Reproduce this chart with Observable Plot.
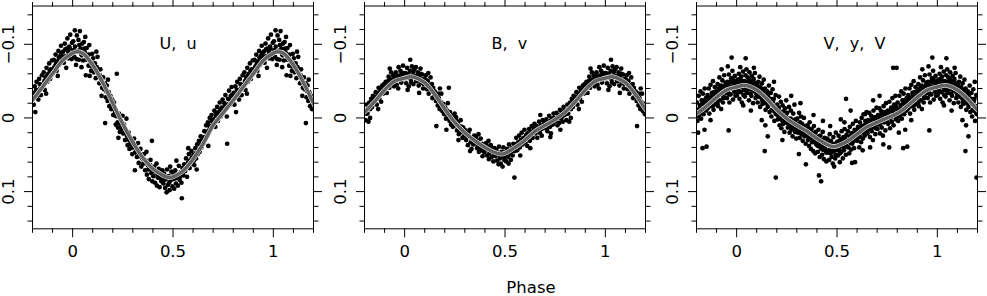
<!DOCTYPE html>
<html><head><meta charset="utf-8">
<script src="https://cdn.jsdelivr.net/npm/d3@7"></script>
<script src="https://cdn.jsdelivr.net/npm/@observablehq/plot@0.6"></script>
<style>
body{margin:0;background:#fff;}
#chart{position:relative;width:987px;height:296px;overflow:hidden;background:#fff;}
#chart svg{position:absolute;top:0;}
svg text{white-space:pre;}
</style></head><body><div id="chart"></div>
<script>
// ---- panel titles ----
const titles = ["U,  u", "B,  v", "V,  y,  V"];
// ---- axis ticks ----
const xMajor = [0, 0.5, 1];
const xMajorLabels = ["0", "0.5", "1"];
const xMinor = [-0.2, -0.1, 0.1, 0.2, 0.3, 0.4, 0.6, 0.7, 0.8, 0.9, 1.1, 1.2];
const yMajor = [-0.1, 0, 0.1];
const yMajorLabels = ["\u22120.1", "0", "0.1"];
const yMinor = [-0.14, -0.12, -0.08, -0.06, -0.04, -0.02, 0.02, 0.04, 0.06, 0.08, 0.12, 0.14];
const xLabel = "Phase";

// ---- fitted curves (phase, mag) over one cycle ----
const uCurve = [[0,-0.088],[0.02,-0.090],[0.05,-0.088],[0.10,-0.072],[0.15,-0.048],[0.20,-0.020],[0.25,0.008],[0.30,0.033],[0.35,0.054],[0.40,0.069],[0.45,0.078],[0.48,0.081],[0.50,0.080],[0.55,0.072],[0.60,0.056],[0.65,0.035],[0.70,0.010],[0.75,-0.007],[0.80,-0.024],[0.85,-0.042],[0.90,-0.060],[0.95,-0.078]];
const bCurve = [[0,-0.054],[0.03,-0.056],[0.05,-0.055],[0.10,-0.048],[0.15,-0.032],[0.20,-0.012],[0.25,0.006],[0.30,0.020],[0.35,0.031],[0.40,0.040],[0.45,0.047],[0.48,0.049],[0.50,0.048],[0.55,0.040],[0.60,0.030],[0.65,0.018],[0.70,0.010],[0.75,0.002],[0.80,-0.008],[0.85,-0.022],[0.90,-0.038],[0.95,-0.050]];
const vCurve = [[0,-0.042],[0.03,-0.044],[0.05,-0.044],[0.10,-0.038],[0.15,-0.026],[0.20,-0.011],[0.25,0.001],[0.30,0.010],[0.35,0.018],[0.40,0.028],[0.45,0.036],[0.48,0.039],[0.50,0.038],[0.55,0.032],[0.60,0.022],[0.65,0.012],[0.70,0.006],[0.75,0.000],[0.80,-0.006],[0.85,-0.016],[0.90,-0.028],[0.95,-0.038]];

// ---- observations (phase, mag) over one cycle ----
const uPoints = [
[0.003,-0.104],[0.008,-0.083],[0.012,-0.097],[0.017,-0.072],[0.021,-0.112],[0.026,-0.091],[0.031,-0.079],[0.036,-0.118],[0.040,-0.094],[0.044,-0.069],[0.048,-0.101],[0.011,-0.119],[0.029,-0.106],[0.046,-0.085],
[0.052,-0.078],[0.056,-0.103],[0.061,-0.089],[0.066,-0.058],[0.070,-0.095],[0.074,-0.083],[0.079,-0.071],[0.083,-0.099],[0.088,-0.076],[0.092,-0.064],[0.097,-0.087],[0.063,-0.110],[0.085,-0.057],
[0.102,-0.081],[0.106,-0.062],[0.111,-0.074],[0.115,-0.054],[0.120,-0.069],[0.124,-0.083],[0.129,-0.057],[0.133,-0.047],[0.138,-0.066],[0.142,-0.052],[0.147,-0.041],[0.118,-0.090],[0.144,-0.030],
[0.152,-0.055],[0.156,-0.039],[0.161,-0.047],[0.162,0.007],[0.165,-0.028],[0.170,-0.044],[0.174,-0.023],[0.179,-0.035],[0.183,-0.016],[0.188,-0.030],[0.192,-0.012],[0.197,-0.025],[0.176,-0.052],
[0.202,-0.004],[0.206,-0.021],[0.211,-0.008],[0.215,0.009],[0.220,-0.060],[0.222,-0.002],[0.226,0.013],[0.231,-0.006],[0.235,0.019],[0.240,0.004],[0.244,0.015],[0.249,-0.003],[0.228,0.027],
[0.252,0.021],[0.256,0.009],[0.261,0.030],[0.265,0.016],[0.270,0.024],[0.274,0.037],[0.279,0.020],[0.283,0.042],[0.288,0.028],[0.292,0.035],[0.297,0.049],[0.268,0.001],
[0.302,0.040],[0.306,0.028],[0.310,0.071],[0.311,0.047],[0.315,0.036],[0.320,0.053],[0.324,0.044],[0.329,0.061],[0.333,0.050],[0.338,0.042],[0.342,0.066],[0.347,0.055],[0.326,0.034],
[0.352,0.062],[0.356,0.049],[0.361,0.071],[0.365,0.058],[0.370,0.077],[0.374,0.064],[0.379,0.083],[0.383,0.069],[0.388,0.057],[0.392,0.075],[0.395,0.031],[0.397,0.086],[0.368,0.046],
[0.402,0.079],[0.406,0.066],[0.411,0.088],[0.415,0.073],[0.420,0.092],[0.424,0.081],[0.429,0.069],[0.433,0.094],[0.438,0.077],[0.442,0.086],[0.447,0.071],[0.418,0.062],
[0.452,0.089],[0.456,0.076],[0.461,0.095],[0.465,0.083],[0.470,0.070],[0.474,0.091],[0.479,0.079],[0.483,0.098],[0.488,0.085],[0.492,0.073],[0.497,0.093],[0.468,0.101],[0.486,0.066],
[0.502,0.083],[0.506,0.096],[0.511,0.071],[0.515,0.089],[0.520,0.077],[0.524,0.092],[0.529,0.065],[0.533,0.084],[0.538,0.074],[0.542,0.088],[0.544,0.109],[0.547,0.068],[0.517,0.058],
[0.552,0.078],[0.556,0.063],[0.561,0.072],[0.565,0.055],[0.570,0.080],[0.574,0.061],[0.579,0.049],[0.583,0.068],[0.588,0.057],[0.592,0.045],[0.597,0.062],[0.576,0.041],
[0.602,0.050],[0.606,0.064],[0.611,0.041],[0.615,0.055],[0.620,0.036],[0.624,0.049],[0.629,0.031],[0.633,0.046],[0.638,0.025],[0.642,0.040],[0.647,0.029],[0.618,0.070],
[0.652,0.034],[0.656,0.018],[0.661,0.028],[0.665,0.010],[0.670,0.024],[0.674,0.006],[0.679,0.017],[0.683,0.000],[0.688,0.014],[0.692,-0.004],[0.697,0.009],[0.676,0.038],
[0.702,0.002],[0.706,-0.010],[0.711,0.012],[0.715,-0.003],[0.720,-0.015],[0.724,0.004],[0.729,-0.008],[0.733,-0.021],[0.738,-0.002],[0.742,-0.014],[0.747,-0.025],[0.770,0.035],
[0.752,-0.009],[0.756,-0.020],[0.761,-0.031],[0.765,-0.013],[0.774,-0.026],[0.779,-0.037],[0.783,-0.018],[0.788,-0.030],[0.792,-0.042],[0.797,-0.022],[0.768,-0.002],
[0.802,-0.034],[0.806,-0.018],[0.811,-0.043],[0.814,-0.008],[0.815,-0.029],[0.820,-0.049],[0.824,-0.036],[0.829,-0.025],[0.833,-0.053],[0.838,-0.040],[0.842,-0.031],[0.847,-0.058],
[0.852,-0.045],[0.856,-0.062],[0.861,-0.038],[0.865,-0.055],[0.870,-0.068],[0.874,-0.049],[0.879,-0.060],[0.883,-0.074],[0.888,-0.053],[0.892,-0.066],[0.897,-0.078],[0.868,-0.033],
[0.902,-0.061],[0.906,-0.079],[0.911,-0.070],[0.915,-0.086],[0.920,-0.064],[0.924,-0.077],[0.929,-0.091],[0.933,-0.072],[0.938,-0.084],[0.942,-0.098],[0.947,-0.079],[0.926,-0.057],
[0.952,-0.090],[0.956,-0.075],[0.961,-0.101],[0.965,-0.084],[0.970,-0.094],[0.974,-0.108],[0.979,-0.081],[0.983,-0.097],[0.988,-0.113],[0.992,-0.087],[0.997,-0.102],[0.968,-0.068]
];
const uPoints2 = [
[0.006,-0.092],[0.019,-0.080],[0.033,-0.099],[0.043,-0.087],[0.058,-0.094],[0.068,-0.079],[0.081,-0.086],[0.094,-0.070],[0.104,-0.073],[0.113,-0.064],[0.126,-0.061],[0.136,-0.058],[0.149,-0.048],[0.159,-0.042],[0.168,-0.036],[0.181,-0.029],[0.194,-0.018],[0.204,-0.012],[0.213,-0.003],[0.224,0.006],[0.237,0.008],[0.246,0.011],[0.258,0.014],[0.272,0.029],[0.285,0.031],[0.295,0.040],[0.308,0.037],[0.318,0.045],[0.331,0.052],[0.344,0.050],[0.354,0.056],[0.363,0.061],[0.376,0.070],[0.386,0.064],[0.399,0.072],[0.409,0.072],[0.422,0.076],[0.436,0.082],[0.445,0.080],[0.458,0.084],[0.472,0.080],[0.481,0.088],[0.494,0.082],[0.504,0.076],[0.513,0.082],[0.527,0.078],[0.536,0.080],[0.549,0.074],[0.558,0.069],[0.568,0.066],[0.581,0.059],[0.594,0.054],[0.604,0.058],[0.613,0.048],[0.626,0.043],[0.636,0.036],[0.645,0.035],[0.658,0.026],[0.668,0.019],[0.681,0.011],[0.694,0.004],[0.704,0.006],[0.713,-0.007],[0.727,-0.004],[0.736,-0.011],[0.745,-0.008],[0.758,-0.016],[0.772,-0.018],[0.786,-0.024],[0.795,-0.031],[0.808,-0.027],[0.818,-0.038],[0.827,-0.031],[0.836,-0.046],[0.849,-0.042],[0.859,-0.050],[0.872,-0.057],[0.886,-0.064],[0.895,-0.059],[0.908,-0.068],[0.918,-0.074],[0.931,-0.082],[0.944,-0.088],[0.954,-0.083],[0.963,-0.093],[0.977,-0.090],[0.986,-0.094],[0.995,-0.080]
];
const bPoints = [
[0.003,-0.061],[0.008,-0.047],[0.012,-0.068],[0.017,-0.055],[0.021,-0.043],[0.026,-0.064],[0.028,-0.079],[0.031,-0.052],[0.036,-0.070],[0.040,-0.058],[0.044,-0.046],[0.048,-0.066],[0.015,-0.038],
[0.052,-0.057],[0.056,-0.069],[0.061,-0.050],[0.066,-0.062],[0.070,-0.044],[0.074,-0.055],[0.079,-0.067],[0.083,-0.048],[0.088,-0.059],[0.092,-0.040],[0.097,-0.053],[0.072,-0.034],
[0.102,-0.047],[0.106,-0.058],[0.111,-0.039],[0.115,-0.050],[0.120,-0.033],[0.124,-0.044],[0.129,-0.055],[0.133,-0.036],[0.138,-0.027],[0.142,-0.041],[0.147,-0.030],[0.118,-0.061],
[0.152,-0.035],[0.156,-0.023],[0.158,0.011],[0.161,-0.031],[0.165,-0.017],[0.170,-0.027],[0.174,-0.012],[0.179,-0.022],[0.183,-0.033],[0.188,-0.009],[0.192,-0.019],[0.197,-0.005],[0.176,-0.040],
[0.202,-0.014],[0.206,0.001],[0.208,0.016],[0.211,-0.010],[0.215,-0.020],[0.220,-0.041],[0.222,0.000],[0.226,-0.008],[0.231,0.009],[0.235,-0.003],[0.240,0.012],[0.244,0.002],[0.249,-0.006],
[0.252,0.010],[0.256,-0.001],[0.261,0.017],[0.265,0.006],[0.270,0.022],[0.274,0.011],[0.279,0.003],[0.283,0.019],[0.288,0.027],[0.292,0.013],[0.297,0.024],[0.268,0.030],
[0.302,0.017],[0.306,0.030],[0.311,0.022],[0.315,0.037],[0.320,0.025],[0.324,0.016],[0.329,0.033],[0.333,0.042],[0.338,0.028],[0.342,0.036],[0.347,0.024],[0.326,0.045],
[0.352,0.034],[0.356,0.025],[0.361,0.041],[0.365,0.031],[0.370,0.046],[0.374,0.036],[0.379,0.028],[0.383,0.044],[0.388,0.052],[0.392,0.038],[0.397,0.047],[0.368,0.022],
[0.402,0.043],[0.406,0.034],[0.411,0.051],[0.415,0.040],[0.420,0.056],[0.424,0.045],[0.429,0.037],[0.433,0.053],[0.438,0.046],[0.442,0.059],[0.447,0.041],[0.418,0.031],
[0.452,0.052],[0.456,0.043],[0.461,0.058],[0.465,0.048],[0.470,0.039],[0.474,0.055],[0.479,0.062],[0.483,0.046],[0.488,0.066],[0.490,0.053],[0.492,0.040],[0.497,0.057],[0.468,0.063],
[0.502,0.047],[0.506,0.059],[0.511,0.042],[0.515,0.053],[0.520,0.036],[0.524,0.049],[0.529,0.057],[0.533,0.041],[0.538,0.051],[0.542,0.035],[0.547,0.081],[0.549,0.045],[0.518,0.062],
[0.552,0.038],[0.556,0.027],[0.561,0.044],[0.565,0.033],[0.570,0.024],[0.574,0.040],[0.579,0.030],[0.583,0.020],[0.588,0.036],[0.592,0.027],[0.597,0.016],[0.576,0.051],
[0.602,0.033],[0.606,0.023],[0.611,0.038],[0.615,0.026],[0.620,0.015],[0.624,0.031],[0.629,0.020],[0.633,0.011],[0.638,0.027],[0.642,0.017],[0.647,0.008],[0.626,0.041],
[0.652,0.021],[0.656,0.011],[0.661,0.027],[0.665,0.016],[0.670,0.005],[0.674,0.020],[0.679,0.010],[0.683,0.024],[0.688,0.003],[0.692,0.014],[0.697,0.006],[0.676,-0.004],
[0.702,0.013],[0.706,0.002],[0.711,0.018],[0.715,0.008],[0.720,-0.003],[0.724,0.012],[0.729,0.021],[0.733,0.001],[0.738,0.009],[0.742,-0.006],[0.747,0.005],[0.726,0.026],
[0.752,0.004],[0.756,-0.007],[0.761,0.010],[0.765,-0.002],[0.770,0.007],[0.774,-0.011],[0.779,0.001],[0.783,-0.008],[0.788,0.005],[0.792,-0.015],[0.797,-0.004],[0.776,0.016],
[0.802,-0.010],[0.806,0.003],[0.811,-0.018],[0.815,-0.006],[0.820,0.005],[0.824,-0.021],[0.829,-0.012],[0.833,-0.026],[0.838,-0.015],[0.842,-0.030],[0.847,-0.020],[0.828,0.000],
[0.852,-0.024],[0.856,-0.035],[0.861,-0.018],[0.865,-0.030],[0.870,-0.041],[0.874,-0.026],[0.879,-0.037],[0.883,-0.022],[0.888,-0.044],[0.892,-0.033],[0.897,-0.046],[0.868,-0.012],
[0.902,-0.039],[0.906,-0.049],[0.911,-0.034],[0.915,-0.045],[0.920,-0.056],[0.924,-0.041],[0.929,-0.052],[0.933,-0.062],[0.938,-0.047],[0.942,-0.058],[0.947,-0.043],[0.926,-0.067],
[0.952,-0.051],[0.956,-0.062],[0.961,-0.045],[0.965,-0.057],[0.970,-0.069],[0.974,-0.053],[0.979,-0.064],[0.983,-0.048],[0.988,-0.060],[0.992,-0.071],[0.997,-0.055],[0.968,-0.040]
];
const bPoints2 = [
[0.006,-0.054],[0.019,-0.060],[0.033,-0.048],[0.043,-0.063],[0.058,-0.051],[0.068,-0.057],[0.081,-0.060],[0.094,-0.046],[0.104,-0.052],[0.113,-0.044],[0.126,-0.039],[0.136,-0.046],[0.149,-0.036],[0.159,-0.028],[0.168,-0.033],[0.181,-0.017],[0.194,-0.013],[0.204,-0.007],[0.213,-0.004],[0.224,0.004],[0.237,0.004],[0.246,0.008],[0.258,0.004],[0.272,0.015],[0.285,0.012],[0.295,0.019],[0.308,0.024],[0.318,0.020],[0.331,0.027],[0.344,0.031],[0.354,0.029],[0.363,0.036],[0.376,0.040],[0.386,0.035],[0.399,0.041],[0.409,0.038],[0.422,0.048],[0.436,0.042],[0.445,0.050],[0.458,0.046],[0.472,0.050],[0.481,0.053],[0.494,0.047],[0.504,0.052],[0.513,0.047],[0.527,0.044],[0.536,0.045],[0.549,0.039],[0.558,0.036],[0.568,0.038],[0.581,0.033],[0.594,0.030],[0.604,0.028],[0.613,0.021],[0.626,0.024],[0.636,0.020],[0.645,0.014],[0.658,0.016],[0.668,0.012],[0.681,0.015],[0.694,0.009],[0.704,0.007],[0.713,0.012],[0.727,0.004],[0.736,0.005],[0.745,0.000],[0.758,0.001],[0.772,-0.004],[0.786,-0.002],[0.795,-0.010],[0.808,-0.006],[0.818,-0.013],[0.827,-0.017],[0.836,-0.020],[0.849,-0.027],[0.859,-0.028],[0.872,-0.033],[0.886,-0.039],[0.895,-0.040],[0.908,-0.043],[0.918,-0.050],[0.931,-0.047],[0.944,-0.053],[0.954,-0.056],[0.963,-0.052],[0.977,-0.058],[0.986,-0.052],[0.995,-0.061]
];
const vPoints = [
[0.002,-0.031],[0.005,-0.052],[0.008,-0.040],[0.011,-0.060],[0.014,-0.026],[0.017,-0.047],[0.020,-0.035],[0.023,-0.056],[0.026,-0.021],[0.029,-0.044],[0.032,-0.063],[0.035,-0.038],[0.038,-0.050],[0.041,-0.029],[0.044,-0.058],[0.045,-0.081],[0.047,-0.041],[0.049,-0.066],[0.018,-0.069],[0.033,-0.017],
[0.052,-0.034],[0.055,-0.055],[0.058,-0.045],[0.061,-0.024],[0.064,-0.062],[0.067,-0.039],[0.070,-0.050],[0.073,-0.030],[0.076,-0.057],[0.079,-0.043],[0.082,-0.020],[0.085,-0.053],[0.088,-0.036],[0.091,-0.061],[0.094,-0.027],[0.097,-0.046],[0.071,-0.010],[0.086,-0.068],
[0.102,-0.038],[0.105,-0.021],[0.108,-0.049],[0.111,-0.032],[0.114,-0.056],[0.117,-0.015],[0.120,-0.041],[0.123,-0.027],[0.126,-0.047],[0.129,-0.019],[0.132,-0.036],[0.135,-0.052],[0.138,-0.024],[0.140,0.045],[0.141,-0.040],[0.144,-0.011],[0.147,-0.031],[0.143,0.010],[0.125,0.003],
[0.152,-0.036],[0.155,-0.015],[0.158,-0.027],[0.161,-0.044],[0.164,-0.008],[0.167,-0.022],[0.170,-0.034],[0.173,-0.002],[0.176,-0.018],[0.179,-0.039],[0.182,-0.010],[0.185,-0.026],[0.188,0.004],[0.191,-0.016],[0.194,-0.031],[0.195,0.081],[0.197,-0.005],[0.155,0.025],[0.186,-0.049],
[0.202,-0.018],[0.205,0.002],[0.208,-0.011],[0.211,-0.029],[0.214,0.010],[0.217,-0.006],[0.220,-0.022],[0.223,0.014],[0.226,-0.002],[0.229,-0.017],[0.232,0.008],[0.235,-0.009],[0.238,0.019],[0.241,-0.013],[0.244,0.004],[0.247,-0.024],[0.228,0.030],
[0.252,-0.007],[0.255,0.013],[0.258,0.001],[0.261,-0.015],[0.264,0.020],[0.267,0.006],[0.270,-0.010],[0.273,0.016],[0.276,0.003],[0.279,0.025],[0.282,-0.006],[0.285,0.011],[0.288,-0.018],[0.291,0.019],[0.294,0.007],[0.297,0.028],[0.272,-0.030],
[0.302,0.001],[0.305,0.020],[0.308,0.009],[0.310,0.049],[0.311,-0.007],[0.314,0.027],[0.317,0.014],[0.320,-0.002],[0.323,0.022],[0.326,0.008],[0.329,0.031],[0.332,0.016],[0.335,0.000],[0.338,0.025],[0.341,0.012],[0.344,0.035],[0.345,0.063],[0.347,0.019],[0.318,-0.020],
[0.352,0.010],[0.355,0.030],[0.358,0.018],[0.361,0.038],[0.364,0.006],[0.367,0.024],[0.370,0.042],[0.373,0.015],[0.376,0.033],[0.379,0.021],[0.382,0.045],[0.385,0.011],[0.388,0.029],[0.391,0.048],[0.394,0.019],[0.397,0.036],[0.383,-0.004],
[0.402,0.027],[0.405,0.046],[0.408,0.016],[0.410,0.078],[0.411,0.035],[0.414,0.053],[0.417,0.024],[0.420,0.041],[0.421,0.086],[0.423,0.030],[0.426,0.050],[0.429,0.019],[0.432,0.038],[0.435,0.056],[0.438,0.027],[0.441,0.044],[0.444,0.033],[0.447,0.059],[0.430,0.004],
[0.452,0.028],[0.455,0.047],[0.458,0.036],[0.461,0.057],[0.464,0.022],[0.467,0.042],[0.470,0.031],[0.473,0.053],[0.476,0.039],[0.479,0.062],[0.482,0.026],[0.485,0.045],[0.488,0.035],[0.491,0.055],[0.494,0.020],[0.497,0.041],[0.486,0.066],[0.466,0.011],
[0.502,0.032],[0.505,0.051],[0.508,0.024],[0.511,0.043],[0.514,0.060],[0.517,0.029],[0.520,0.046],[0.523,0.018],[0.526,0.037],[0.529,0.055],[0.532,0.026],[0.535,0.042],[0.538,0.015],[0.541,0.034],[0.544,0.050],[0.545,-0.026],[0.547,0.023],[0.519,0.002],[0.537,0.006],
[0.552,0.039],[0.555,0.018],[0.558,0.032],[0.561,0.048],[0.564,0.012],[0.567,0.028],[0.570,0.043],[0.573,0.021],[0.576,0.035],[0.579,0.008],[0.582,0.026],[0.585,0.041],[0.588,0.016],[0.590,0.060],[0.591,0.030],[0.594,0.004],[0.597,0.022],[0.575,0.061],[0.568,-0.010],
[0.602,0.031],[0.605,0.012],[0.608,0.025],[0.611,0.040],[0.614,0.006],[0.617,0.019],[0.620,0.033],[0.623,0.000],[0.626,0.015],[0.629,0.028],[0.632,-0.005],[0.635,0.010],[0.638,0.024],[0.641,0.004],[0.644,0.018],[0.647,-0.008],[0.640,-0.005],[0.628,0.044],
[0.652,0.021],[0.655,0.003],[0.658,0.014],[0.661,-0.007],[0.664,0.026],[0.667,0.009],[0.670,-0.003],[0.673,0.018],[0.676,0.002],[0.679,0.030],[0.682,-0.010],[0.685,0.012],[0.688,-0.001],[0.691,0.022],[0.694,0.006],[0.697,-0.014],[0.680,-0.024],[0.665,0.040],
[0.702,0.015],[0.705,-0.004],[0.708,0.009],[0.711,-0.013],[0.714,0.021],[0.717,0.002],[0.720,-0.009],[0.723,0.013],[0.726,-0.001],[0.729,0.024],[0.732,-0.016],[0.735,0.006],[0.738,-0.006],[0.741,0.017],[0.744,-0.020],[0.747,0.003],[0.731,0.036],[0.712,-0.030],
[0.752,-0.010],[0.755,0.008],[0.758,-0.004],[0.761,-0.022],[0.764,0.014],[0.767,-0.001],[0.770,-0.014],[0.773,0.005],[0.776,-0.027],[0.779,-0.008],[0.782,0.010],[0.785,-0.018],[0.788,-0.003],[0.791,-0.030],[0.794,0.002],[0.797,-0.012],[0.760,0.040],[0.780,-0.068],[0.797,-0.068],
[0.802,-0.021],[0.805,0.004],[0.808,-0.010],[0.811,-0.030],[0.814,-0.004],[0.817,-0.017],[0.820,-0.036],[0.823,0.001],[0.826,-0.024],[0.829,-0.012],[0.830,0.041],[0.832,-0.033],[0.835,-0.005],[0.838,-0.020],[0.840,0.016],[0.841,-0.040],[0.844,-0.014],[0.847,-0.027],[0.850,0.039],[0.808,0.020],
[0.852,-0.012],[0.855,-0.031],[0.858,-0.020],[0.861,-0.040],[0.864,-0.006],[0.867,-0.026],[0.870,-0.045],[0.873,-0.016],[0.876,-0.034],[0.879,-0.023],[0.882,-0.050],[0.885,-0.011],[0.888,-0.029],[0.891,-0.042],[0.894,-0.019],[0.897,-0.036],[0.870,0.003],
[0.902,-0.026],[0.905,-0.046],[0.908,-0.016],[0.911,-0.035],[0.914,-0.055],[0.917,-0.024],[0.920,-0.041],[0.923,-0.012],[0.926,-0.031],[0.929,-0.051],[0.932,-0.021],[0.935,-0.038],[0.938,-0.058],[0.941,-0.028],[0.944,-0.045],[0.947,-0.034],[0.960,0.017],[0.925,-0.066],
[0.952,-0.027],[0.955,-0.049],[0.958,-0.037],[0.961,-0.059],[0.964,-0.021],[0.967,-0.043],[0.970,-0.032],[0.973,-0.054],[0.975,-0.082],[0.976,-0.040],[0.979,-0.064],[0.982,-0.025],[0.985,-0.047],[0.988,-0.036],[0.991,-0.057],[0.994,-0.030],[0.997,-0.050],[0.956,-0.070]
];
const vPoints2 = [
[0.004,-0.045],[0.010,-0.036],[0.016,-0.053],[0.022,-0.042],[0.028,-0.050],[0.034,-0.031],[0.040,-0.047],[0.046,-0.037],[0.051,-0.049],[0.057,-0.040],[0.063,-0.052],[0.069,-0.033],[0.075,-0.046],[0.081,-0.038],[0.087,-0.048],[0.093,-0.041],[0.099,-0.032],[0.104,-0.044],[0.110,-0.029],[0.116,-0.042],[0.122,-0.034],[0.128,-0.023],[0.134,-0.038],[0.139,-0.030],[0.145,-0.020],[0.151,-0.027],[0.157,-0.032],[0.163,-0.019],[0.169,-0.026],[0.175,-0.011],[0.181,-0.022],[0.187,-0.015],[0.193,-0.007],[0.199,-0.013],[0.204,-0.004],[0.210,-0.014],[0.216,0.001],[0.222,-0.008],[0.228,0.004],[0.234,-0.003],[0.240,0.006],[0.246,-0.002],[0.251,0.007],[0.257,0.004],[0.263,0.010],[0.269,0.001],[0.275,0.012],[0.281,0.006],[0.287,0.013],[0.293,0.002],[0.299,0.014],[0.304,0.009],[0.310,0.017],[0.316,0.006],[0.322,0.014],[0.328,0.020],[0.334,0.011],[0.340,0.021],[0.346,0.015],[0.351,0.024],[0.357,0.013],[0.363,0.026],[0.369,0.019],[0.375,0.028],[0.381,0.022],[0.387,0.033],[0.393,0.025],[0.399,0.032],[0.404,0.038],[0.410,0.025],[0.416,0.037],[0.422,0.031],[0.428,0.043],[0.434,0.034],[0.440,0.040],[0.446,0.047],[0.451,0.036],[0.457,0.044],[0.463,0.033],[0.469,0.048],[0.475,0.036],[0.481,0.045],[0.487,0.040],[0.493,0.050],[0.499,0.036],[0.504,0.044],[0.510,0.034],[0.516,0.048],[0.522,0.038],[0.528,0.030],[0.534,0.044],[0.540,0.028],[0.546,0.038],[0.551,0.030],[0.557,0.040],[0.563,0.025],[0.569,0.034],[0.575,0.022],[0.581,0.032],[0.587,0.020],[0.593,0.028],[0.599,0.017],[0.604,0.025],[0.610,0.014],[0.616,0.026],[0.622,0.011],[0.628,0.020],[0.634,0.013],[0.640,0.022],[0.646,0.008],[0.651,0.016],[0.657,0.007],[0.663,0.015],[0.669,0.004],[0.675,0.012],[0.681,0.002],[0.687,0.010],[0.693,0.014],[0.699,0.001],[0.704,0.008],[0.710,-0.002],[0.716,0.008],[0.722,-0.004],[0.728,0.005],[0.734,-0.008],[0.740,0.002],[0.746,-0.005],[0.751,0.004],[0.757,-0.008],[0.763,0.000],[0.769,-0.010],[0.775,-0.002],[0.781,-0.013],[0.787,-0.006],[0.793,-0.016],[0.799,-0.002],[0.804,-0.011],[0.810,-0.002],[0.816,-0.013],[0.822,-0.008],[0.828,-0.019],[0.834,-0.012],[0.840,-0.024],[0.846,-0.010],[0.851,-0.022],[0.857,-0.014],[0.863,-0.027],[0.869,-0.019],[0.875,-0.029],[0.881,-0.016],[0.887,-0.035],[0.893,-0.026],[0.899,-0.032],[0.904,-0.020],[0.910,-0.040],[0.916,-0.031],[0.922,-0.044],[0.928,-0.036],[0.934,-0.027],[0.940,-0.042],[0.946,-0.048],[0.951,-0.038],[0.957,-0.044],[0.963,-0.032],[0.969,-0.049],[0.975,-0.040],[0.981,-0.052],[0.987,-0.043],[0.993,-0.035],[0.999,-0.046]
];

// repeat the cycle on both sides, as a phase diagram does
function wrap(arr, lo, hi) {
  const out = [];
  for (const [p, m] of arr) {
    out.push([p, m]);
    if (p >= lo) out.push([p - 1, m]);
    if (p <= hi) out.push([p + 1, m]);
  }
  return out.sort((a, b) => a[0] - b[0]);
}

const panels = [
  {title: titles[0], pts: uPoints.concat(uPoints2), curve: uCurve, left: 0, width: 332, mr: 19},
  {title: titles[1], pts: bPoints.concat(bPoints2), curve: bCurve, left: 332, width: 332, mr: 19, phase: true},
  {title: titles[2], pts: vPoints.concat(vPoints2), curve: vCurve, left: 664, width: 323, mr: 10}
];

const FONT = "DejaVu Sans";
const FS = 16.5;
const root = document.getElementById("chart");

for (const pn of panels) {
  const pts = wrap(pn.pts, 0.8, 0.2);
  const cur = wrap(pn.curve, 0.7, 0.3);
  const marks = [
    Plot.dot(pts, {x: d => d[0], y: d => d[1], r: 2.35, fill: "black", stroke: "none", clip: true}),
    Plot.line(cur, {x: d => d[0], y: d => d[1], stroke: "#e0e0e0", strokeWidth: 4.8, curve: "catmull-rom", clip: true}),
    Plot.line(cur, {x: d => d[0], y: d => d[1], stroke: "#626262", strokeWidth: 3.5, curve: "catmull-rom", clip: true}),
    Plot.frame({stroke: "black", strokeWidth: 1}),
    // bottom axis
    Plot.axisX({anchor: "bottom", ticks: xMajor, tickSize: 9, tickPadding: 7.5,
      tickFormat: d => xMajorLabels[xMajor.indexOf(d)], label: null, fontSize: FS, fontFamily: FONT}),
    Plot.axisX({anchor: "bottom", ticks: xMinor, tickSize: 4.5, tickFormat: () => "", label: null}),
    // top axis
    Plot.axisX({anchor: "top", ticks: xMajor, tickSize: 8, tickFormat: () => "", label: null}),
    Plot.axisX({anchor: "top", ticks: xMinor, tickSize: 4.5, tickFormat: () => "", label: null}),
    // left axis
    Plot.axisY({anchor: "left", ticks: yMajor, tickSize: 8, tickFormat: () => "", label: null}),
    Plot.axisY({anchor: "left", ticks: yMinor, tickSize: 4.5, tickFormat: () => "", label: null}),
    // right axis
    Plot.axisY({anchor: "right", ticks: yMajor, tickSize: 8, tickFormat: () => "", label: null}),
    Plot.axisY({anchor: "right", ticks: yMinor, tickSize: 4.5, tickFormat: () => "", label: null}),
    // rotated y tick labels
    Plot.text(yMajor, {y: d => d, text: (d, i) => yMajorLabels[i], frameAnchor: "left", rotate: -90,
      dx: -24, textAnchor: "middle", lineAnchor: "middle", fontSize: FS, fontFamily: FONT, fill: "black"}),
    // panel title
    Plot.text([pn.title], {text: d => d, frameAnchor: "top-left", dx: 127, dy: 42.8, textAnchor: "start",
      lineAnchor: "bottom", fontSize: FS - 0.5, fontFamily: FONT, fill: "black"})
  ];
  if (pn.phase) {
    marks.push(Plot.text([xLabel], {text: d => d, frameAnchor: "bottom", dx: 26, dy: 59,
      textAnchor: "middle", lineAnchor: "middle", fontSize: FS, fontFamily: FONT, fill: "black"}));
  }
  const svg = Plot.plot({
    width: pn.width, height: 296,
    marginLeft: 32, marginRight: pn.mr, marginTop: 5.5, marginBottom: 67.7,
    x: {domain: [-0.2, 1.2], axis: null},
    y: {domain: [0.1505, -0.152], axis: null},
    style: {fontFamily: FONT, fontSize: FS + "px", color: "black", background: "transparent", overflow: "visible"},
    marks
  });
  svg.style.left = pn.left + "px";
  root.appendChild(svg);
}
</script>
</body></html>
